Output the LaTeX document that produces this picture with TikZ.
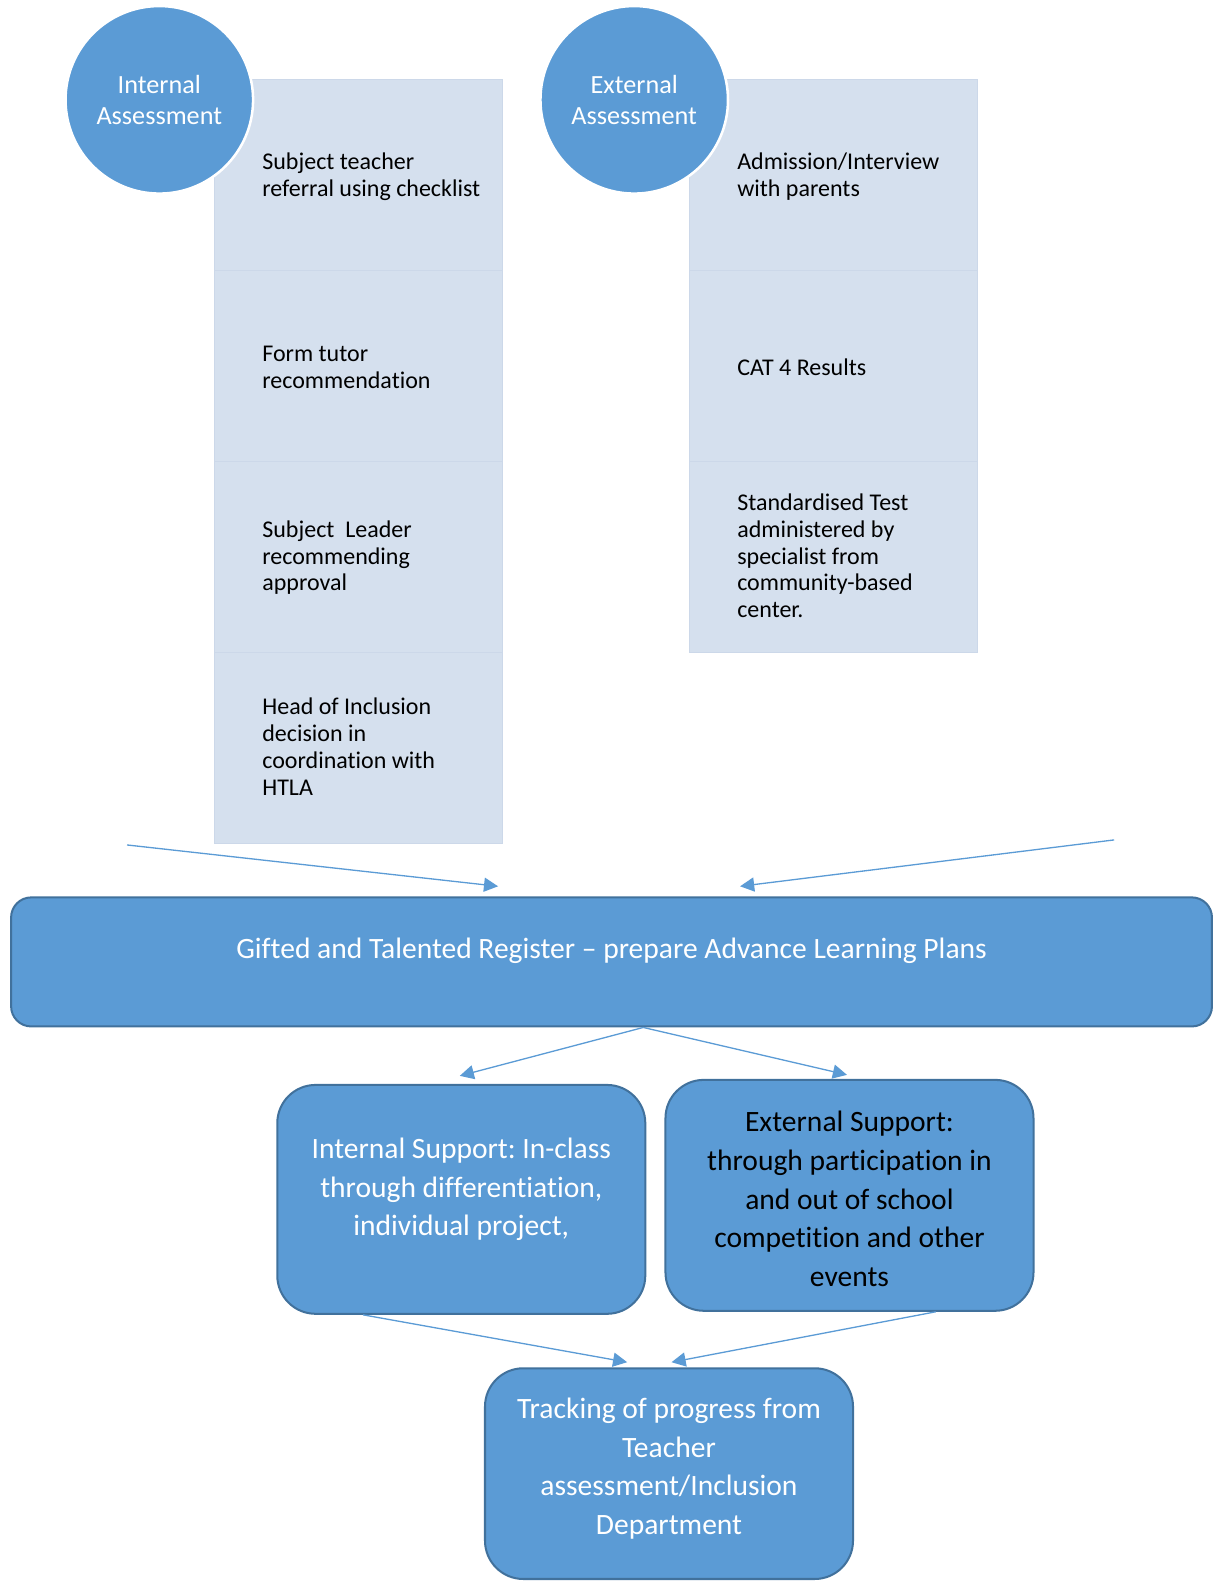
\documentclass[tikz,border=0pt]{standalone}
\usepackage{fontspec}
\setmainfont{Carlito}[Ligatures={TeX,NoCommon}]
\usepackage{tikz}
\usetikzlibrary{arrows.meta}
\frenchspacing
\definecolor{box}{HTML}{5B9BD5}
\definecolor{boxline}{HTML}{41719C}
\definecolor{cellbg}{HTML}{D5E0EE}
\definecolor{cellline}{HTML}{CCD8E9}
\definecolor{ink}{HTML}{000000}
\tikzset{
  circ/.style={circle, fill=box, draw=white, line width=2.5pt, minimum size=186pt, inner sep=0pt, text=white, align=center, font=\fontsize{26}{31}\selectfont},
  cell/.style={rectangle, fill=cellbg, draw=cellline, line width=0.8pt, minimum width=285pt, minimum height=189.3pt, inner sep=0pt, outer sep=0pt, anchor=north west},
  celltxt/.style={anchor=west, inner sep=0pt, align=left, text=ink, font=\fontsize{23.8}{26.5}\selectfont},
  bluebox/.style={rectangle, rounded corners=38pt, fill=box, draw=boxline, line width=2pt, inner sep=0pt},
  boxtxt/.style={inner sep=0pt, align=center, text=white, font=\fontsize{29.3}{38.5}\selectfont},
  link/.style={draw=box, line width=1.3pt, -{Triangle[length=14pt,width=14pt]}},
}
\begin{document}
\begin{tikzpicture}[x=1pt, y=-1pt]
  \useasboundingbox (0,0) rectangle (1208,1568);

  % internal column
  \node[cell] (ic1) at (213,79) {};
  \node[cell] (ic2) at (ic1.south west) {};
  \node[cell] (ic3) at (ic2.south west) {};
  \node[cell] (ic4) at (ic3.south west) {};
  \node[celltxt] (ic1txt) at ([shift={(47pt,-1.5pt)}]ic1.west) {Subject teacher\\referral using checklist};
  \node[celltxt] (ic2txt) at ([shift={(47pt,-1.5pt)}]ic2.west) {Form tutor\\recommendation};
  \node[celltxt] (ic3txt) at ([shift={(47pt,-1pt)}]ic3.west) {Subject\ \ Leader\\recommending\\approval};
  \node[celltxt] (ic4txt) at ([shift={(47pt,1pt)}]ic4.west) {Head of Inclusion\\decision in\\coordination with\\HTLA};

  % external column
  \node[cell] (ec1) at (684,79) {};
  \node[cell] (ec2) at (ec1.south west) {};
  \node[cell] (ec3) at (ec2.south west) {};
  \node[celltxt] (ec1txt) at ([shift={(47pt,-1.5pt)}]ec1.west) {Admission/Interview\\with parents};
  \node[celltxt] (ec2txt) at ([shift={(47pt,-1.5pt)}]ec2.west) {CAT 4 Results};
  \node[celltxt] (ec3txt) at ([shift={(47pt,1pt)}]ec3.west) {Standardised Test\\administered by\\specialist from\\community-based\\center.};

  \node[circ] (intass) at (158,99) {Internal\\Assessment};
  \node[circ] (extass) at (629,99) {External\\Assessment};

  % register and supports
  \node[bluebox, rounded corners=20pt, minimum width=1191pt, minimum height=128pt] (reg) at (606.5,954) {};
  \node[boxtxt] (regtxt) at ([yshift=11pt]reg.center) {Gifted and Talented Register – prepare Advance Learning Plans};

  \node[bluebox, minimum width=365pt, minimum height=227pt] (intsup) at (457.5,1189.5) {};
  \node[boxtxt] (intsuptxt) at ([yshift=10pt]intsup.center) {Internal Support: In-class\\through differentiation,\\individual project,};

  \node[bluebox, minimum width=365pt, minimum height=229pt] (extsup) at (842.5,1185.5) {};
  \node[boxtxt, text=ink] (extsuptxt) at ([yshift=-3.5pt]extsup.center) {External Support:\\through participation in\\and out of school\\competition and other\\events};

  \node[bluebox, minimum width=365pt, minimum height=209pt] (track) at (663.5,1461.5) {};
  \node[boxtxt] (tracktxt) at ([yshift=5pt]track.center) {Tracking of progress from\\Teacher\\assessment/Inclusion\\Department};

  % arrows
  \coordinate (fromint) at (126,838);
  \coordinate (fromext) at (1105,833);
  \draw[link] (fromint) -- ([shift={(-112.5pt,10pt)}]reg.north);
  \draw[link] (fromext) -- ([shift={(127.5pt,10pt)}]reg.north);
  \draw[link] ([xshift=31.5pt]reg.south) -- ([shift={(-1.5pt,8pt)}]intsup.north);
  \draw[link] ([xshift=31.5pt]reg.south) -- ([shift={(-2.5pt,4pt)}]extsup.north);
  \draw[link] ([xshift=-97.5pt]intsup.south) -- ([shift={(-41.5pt,5pt)}]track.north);
  \draw[link] ([xshift=85.5pt]extsup.south) -- ([shift={(2.5pt,5pt)}]track.north);
\end{tikzpicture}
\end{document}
